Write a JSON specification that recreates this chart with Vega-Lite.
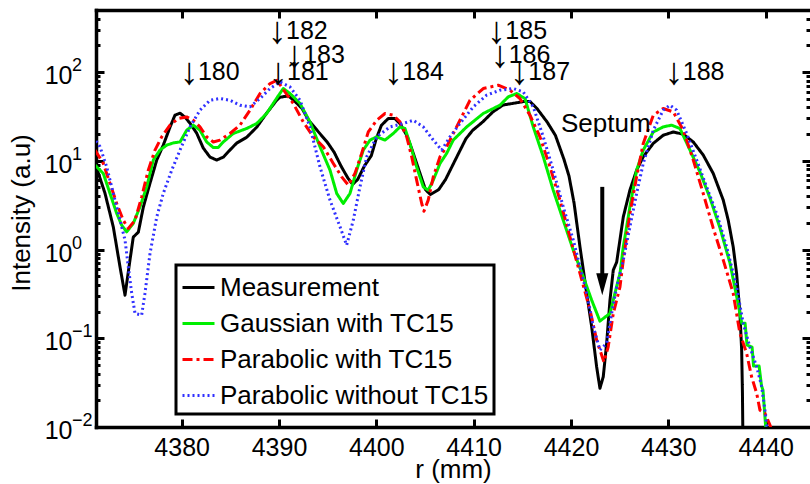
{
  "$schema": "https://vega.github.io/schema/vega-lite/v6.json",
  "width": 714,
  "height": 417,
  "autosize": {"type": "none"},
  "padding": {"left": 96, "top": 10, "right": 0, "bottom": 57},
  "background": "white",
  "config": {
    "font": "Liberation Sans",
    "view": {"stroke": null},
    "axis": {
      "grid": false,
      "domainColor": "#000",
      "tickColor": "#000",
      "labelColor": "#000",
      "titleColor": "#000",
      "labelFont": "Liberation Sans",
      "titleFont": "Liberation Sans",
      "labelFontSize": 25,
      "titleFontSize": 26,
      "titleFontWeight": "normal",
      "domainWidth": 3.5,
      "tickWidth": 3,
      "domainCap": "square",
      "labelOverlap": false,
      "labelFlush": false,
      "labelBound": false
    },
    "legend": {"strokeWidth": 3}
  },
  "datasets": {
    "curves": [
      {"s":"Measurement","r":4371.27,"v":8.26},{"s":"Measurement","r":4372.12,"v":4.32},{"s":"Measurement","r":4372.98,"v":1.79},{"s":"Measurement","r":4373.67,"v":0.634},{"s":"Measurement","r":4374.18,"v":0.306},{"s":"Measurement","r":4374.69,"v":0.76},{"s":"Measurement","r":4375.03,"v":1.38},{"s":"Measurement","r":4375.55,"v":1.57},{"s":"Measurement","r":4376.06,"v":3.0},{"s":"Measurement","r":4376.75,"v":5.6},{"s":"Measurement","r":4377.44,"v":10.2},{"s":"Measurement","r":4378.11,"v":15.0},{"s":"Measurement","r":4378.8,"v":23.9},{"s":"Measurement","r":4379.31,"v":32.6},{"s":"Measurement","r":4379.83,"v":34.4},{"s":"Measurement","r":4380.34,"v":31.0},{"s":"Measurement","r":4380.86,"v":26.5},{"s":"Measurement","r":4381.54,"v":20.5},{"s":"Measurement","r":4382.22,"v":13.9},{"s":"Measurement","r":4382.91,"v":11.0},{"s":"Measurement","r":4383.6,"v":10.2},{"s":"Measurement","r":4384.28,"v":11.0},{"s":"Measurement","r":4384.96,"v":13.2},{"s":"Measurement","r":4385.65,"v":15.8},{"s":"Measurement","r":4386.68,"v":18.4},{"s":"Measurement","r":4387.71,"v":23.9},{"s":"Measurement","r":4388.73,"v":34.4},{"s":"Measurement","r":4389.76,"v":48.1},{"s":"Measurement","r":4390.1,"v":52.0},{"s":"Measurement","r":4390.97,"v":53.8},{"s":"Measurement","r":4391.66,"v":46.4},{"s":"Measurement","r":4392.36,"v":38.9},{"s":"Measurement","r":4393.05,"v":28.6},{"s":"Measurement","r":4393.92,"v":22.0},{"s":"Measurement","r":4394.96,"v":16.2},{"s":"Measurement","r":4395.66,"v":12.5},{"s":"Measurement","r":4396.36,"v":8.77},{"s":"Measurement","r":4397.05,"v":6.45},{"s":"Measurement","r":4397.57,"v":5.42},{"s":"Measurement","r":4398.09,"v":6.18},{"s":"Measurement","r":4398.78,"v":8.77},{"s":"Measurement","r":4399.48,"v":11.4},{"s":"Measurement","r":4399.99,"v":17.7},{"s":"Measurement","r":4400.52,"v":25.1},{"s":"Measurement","r":4401.22,"v":29.9},{"s":"Measurement","r":4401.9,"v":29.9},{"s":"Measurement","r":4402.43,"v":26.2},{"s":"Measurement","r":4403.13,"v":19.3},{"s":"Measurement","r":4403.64,"v":13.6},{"s":"Measurement","r":4404.34,"v":8.04},{"s":"Measurement","r":4405.04,"v":4.75},{"s":"Measurement","r":4405.55,"v":4.16},{"s":"Measurement","r":4406.42,"v":4.75},{"s":"Measurement","r":4407.12,"v":6.18},{"s":"Measurement","r":4407.81,"v":8.77},{"s":"Measurement","r":4408.51,"v":12.5},{"s":"Measurement","r":4409.2,"v":17.7},{"s":"Measurement","r":4409.89,"v":22.0},{"s":"Measurement","r":4410.93,"v":27.4},{"s":"Measurement","r":4411.98,"v":35.6},{"s":"Measurement","r":4413.02,"v":42.5},{"s":"Measurement","r":4414.07,"v":44.4},{"s":"Measurement","r":4415.1,"v":46.4},{"s":"Measurement","r":4415.8,"v":46.4},{"s":"Measurement","r":4416.49,"v":38.9},{"s":"Measurement","r":4417.54,"v":27.4},{"s":"Measurement","r":4418.4,"v":19.3},{"s":"Measurement","r":4419.27,"v":10.4},{"s":"Measurement","r":4419.79,"v":6.74},{"s":"Measurement","r":4420.31,"v":3.35},{"s":"Measurement","r":4420.92,"v":1.07},{"s":"Measurement","r":4421.61,"v":0.321},{"s":"Measurement","r":4422.12,"v":0.135},{"s":"Measurement","r":4422.63,"v":0.0478},{"s":"Measurement","r":4422.97,"v":0.0273},{"s":"Measurement","r":4423.31,"v":0.0368},{"s":"Measurement","r":4423.66,"v":0.0877},{"s":"Measurement","r":4424.0,"v":0.269},{"s":"Measurement","r":4424.34,"v":0.586},{"s":"Measurement","r":4424.69,"v":0.721},{"s":"Measurement","r":4425.37,"v":2.33},{"s":"Measurement","r":4426.05,"v":4.67},{"s":"Measurement","r":4426.74,"v":7.84},{"s":"Measurement","r":4427.42,"v":11.1},{"s":"Measurement","r":4428.45,"v":15.7},{"s":"Measurement","r":4429.47,"v":19.4},{"s":"Measurement","r":4430.5,"v":21.1},{"s":"Measurement","r":4431.53,"v":19.9},{"s":"Measurement","r":4432.56,"v":16.3},{"s":"Measurement","r":4433.58,"v":11.6},{"s":"Measurement","r":4434.61,"v":7.19},{"s":"Measurement","r":4435.64,"v":3.6},{"s":"Measurement","r":4436.15,"v":2.14},{"s":"Measurement","r":4436.66,"v":1.07},{"s":"Measurement","r":4437.01,"v":0.538},{"s":"Measurement","r":4437.35,"v":0.19},{"s":"Measurement","r":4437.53,"v":0.0736},{"s":"Measurement","r":4437.61,"v":0.0241},{"s":"Measurement","r":4437.66,"v":0.007},
      {"s":"Gaussian with TC15","r":4371.1,"v":8.92},{"s":"Gaussian with TC15","r":4371.95,"v":7.19},{"s":"Gaussian with TC15","r":4372.64,"v":4.28},{"s":"Gaussian with TC15","r":4373.33,"v":2.55},{"s":"Gaussian with TC15","r":4373.84,"v":1.88},{"s":"Gaussian with TC15","r":4374.35,"v":1.58},{"s":"Gaussian with TC15","r":4375.03,"v":1.97},{"s":"Gaussian with TC15","r":4375.72,"v":3.03},{"s":"Gaussian with TC15","r":4376.41,"v":5.08},{"s":"Gaussian with TC15","r":4377.09,"v":10.2},{"s":"Gaussian with TC15","r":4377.77,"v":13.2},{"s":"Gaussian with TC15","r":4378.46,"v":15.0},{"s":"Gaussian with TC15","r":4379.14,"v":15.9},{"s":"Gaussian with TC15","r":4379.83,"v":16.3},{"s":"Gaussian with TC15","r":4380.52,"v":22.1},{"s":"Gaussian with TC15","r":4381.19,"v":25.2},{"s":"Gaussian with TC15","r":4381.88,"v":22.1},{"s":"Gaussian with TC15","r":4382.57,"v":16.3},{"s":"Gaussian with TC15","r":4383.25,"v":14.1},{"s":"Gaussian with TC15","r":4383.76,"v":14.1},{"s":"Gaussian with TC15","r":4384.28,"v":16.3},{"s":"Gaussian with TC15","r":4385.3,"v":20.3},{"s":"Gaussian with TC15","r":4386.68,"v":23.1},{"s":"Gaussian with TC15","r":4387.71,"v":26.3},{"s":"Gaussian with TC15","r":4388.73,"v":34.1},{"s":"Gaussian with TC15","r":4389.76,"v":50.7},{"s":"Gaussian with TC15","r":4390.44,"v":65.2},{"s":"Gaussian with TC15","r":4391.13,"v":57.3},{"s":"Gaussian with TC15","r":4392.16,"v":44.2},{"s":"Gaussian with TC15","r":4393.18,"v":27.4},{"s":"Gaussian with TC15","r":4394.21,"v":14.4},{"s":"Gaussian with TC15","r":4395.24,"v":7.84},{"s":"Gaussian with TC15","r":4395.93,"v":4.28},{"s":"Gaussian with TC15","r":4396.6,"v":3.3},{"s":"Gaussian with TC15","r":4397.29,"v":4.28},{"s":"Gaussian with TC15","r":4397.98,"v":7.84},{"s":"Gaussian with TC15","r":4398.66,"v":13.2},{"s":"Gaussian with TC15","r":4399.35,"v":17.1},{"s":"Gaussian with TC15","r":4400.03,"v":18.6},{"s":"Gaussian with TC15","r":4400.89,"v":17.1},{"s":"Gaussian with TC15","r":4401.74,"v":20.3},{"s":"Gaussian with TC15","r":4402.43,"v":24.1},{"s":"Gaussian with TC15","r":4402.94,"v":23.1},{"s":"Gaussian with TC15","r":4403.45,"v":15.7},{"s":"Gaussian with TC15","r":4404.14,"v":8.53},{"s":"Gaussian with TC15","r":4404.82,"v":5.08},{"s":"Gaussian with TC15","r":4405.33,"v":4.67},{"s":"Gaussian with TC15","r":4405.85,"v":6.05},{"s":"Gaussian with TC15","r":4406.54,"v":9.33},{"s":"Gaussian with TC15","r":4407.22,"v":12.1},{"s":"Gaussian with TC15","r":4407.9,"v":17.1},{"s":"Gaussian with TC15","r":4409.28,"v":24.1},{"s":"Gaussian with TC15","r":4410.98,"v":34.1},{"s":"Gaussian with TC15","r":4412.7,"v":42.3},{"s":"Gaussian with TC15","r":4413.55,"v":52.5},{"s":"Gaussian with TC15","r":4414.42,"v":57.3},{"s":"Gaussian with TC15","r":4415.27,"v":50.3},{"s":"Gaussian with TC15","r":4416.12,"v":24.1},{"s":"Gaussian with TC15","r":4417.15,"v":11.1},{"s":"Gaussian with TC15","r":4418.17,"v":4.67},{"s":"Gaussian with TC15","r":4419.2,"v":2.14},{"s":"Gaussian with TC15","r":4420.23,"v":0.984},{"s":"Gaussian with TC15","r":4421.26,"v":0.493},{"s":"Gaussian with TC15","r":4422.12,"v":0.269},{"s":"Gaussian with TC15","r":4422.97,"v":0.156},{"s":"Gaussian with TC15","r":4423.49,"v":0.173},{"s":"Gaussian with TC15","r":4424.0,"v":0.19},{"s":"Gaussian with TC15","r":4424.51,"v":0.321},{"s":"Gaussian with TC15","r":4425.03,"v":0.538},{"s":"Gaussian with TC15","r":4425.37,"v":1.07},{"s":"Gaussian with TC15","r":4426.05,"v":3.03},{"s":"Gaussian with TC15","r":4426.74,"v":7.84},{"s":"Gaussian with TC15","r":4427.42,"v":13.2},{"s":"Gaussian with TC15","r":4428.45,"v":21.1},{"s":"Gaussian with TC15","r":4429.47,"v":24.1},{"s":"Gaussian with TC15","r":4430.34,"v":25.2},{"s":"Gaussian with TC15","r":4431.19,"v":23.1},{"s":"Gaussian with TC15","r":4432.22,"v":13.2},{"s":"Gaussian with TC15","r":4433.25,"v":7.45},{"s":"Gaussian with TC15","r":4434.28,"v":3.79},{"s":"Gaussian with TC15","r":4435.31,"v":1.74},{"s":"Gaussian with TC15","r":4436.33,"v":0.703},{"s":"Gaussian with TC15","r":4437.19,"v":0.237},{"s":"Gaussian with TC15","r":4437.54,"v":0.148},{"s":"Gaussian with TC15","r":4437.88,"v":0.148},{"s":"Gaussian with TC15","r":4438.08,"v":0.0837},{"s":"Gaussian with TC15","r":4438.6,"v":0.0796},{"s":"Gaussian with TC15","r":4438.75,"v":0.0486},{"s":"Gaussian with TC15","r":4439.32,"v":0.0486},{"s":"Gaussian with TC15","r":4439.57,"v":0.029},{"s":"Gaussian with TC15","r":4439.72,"v":0.0261},{"s":"Gaussian with TC15","r":4440.03,"v":0.009},
      {"s":"Parabolic with TC15","r":4371.1,"v":13.2},{"s":"Parabolic with TC15","r":4371.95,"v":9.33},{"s":"Parabolic with TC15","r":4372.64,"v":5.55},{"s":"Parabolic with TC15","r":4373.33,"v":3.3},{"s":"Parabolic with TC15","r":4374.0,"v":2.14},{"s":"Parabolic with TC15","r":4374.52,"v":1.73},{"s":"Parabolic with TC15","r":4375.21,"v":2.14},{"s":"Parabolic with TC15","r":4375.89,"v":3.92},{"s":"Parabolic with TC15","r":4376.57,"v":7.84},{"s":"Parabolic with TC15","r":4377.26,"v":13.2},{"s":"Parabolic with TC15","r":4377.95,"v":18.6},{"s":"Parabolic with TC15","r":4378.8,"v":25.2},{"s":"Parabolic with TC15","r":4379.65,"v":29.9},{"s":"Parabolic with TC15","r":4380.52,"v":31.2},{"s":"Parabolic with TC15","r":4381.19,"v":28.6},{"s":"Parabolic with TC15","r":4381.88,"v":24.1},{"s":"Parabolic with TC15","r":4382.57,"v":18.6},{"s":"Parabolic with TC15","r":4383.25,"v":16.3},{"s":"Parabolic with TC15","r":4383.94,"v":17.1},{"s":"Parabolic with TC15","r":4384.96,"v":20.3},{"s":"Parabolic with TC15","r":4385.99,"v":25.2},{"s":"Parabolic with TC15","r":4387.02,"v":37.2},{"s":"Parabolic with TC15","r":4388.05,"v":57.3},{"s":"Parabolic with TC15","r":4389.08,"v":74.2},{"s":"Parabolic with TC15","r":4389.79,"v":80.8},{"s":"Parabolic with TC15","r":4390.61,"v":59.7},{"s":"Parabolic with TC15","r":4391.47,"v":44.2},{"s":"Parabolic with TC15","r":4392.49,"v":27.4},{"s":"Parabolic with TC15","r":4393.52,"v":18.6},{"s":"Parabolic with TC15","r":4394.55,"v":14.4},{"s":"Parabolic with TC15","r":4395.58,"v":9.33},{"s":"Parabolic with TC15","r":4396.44,"v":6.59},{"s":"Parabolic with TC15","r":4397.12,"v":5.31},{"s":"Parabolic with TC15","r":4397.8,"v":7.19},{"s":"Parabolic with TC15","r":4398.49,"v":12.1},{"s":"Parabolic with TC15","r":4399.17,"v":21.1},{"s":"Parabolic with TC15","r":4400.03,"v":28.6},{"s":"Parabolic with TC15","r":4400.89,"v":34.1},{"s":"Parabolic with TC15","r":4401.74,"v":32.6},{"s":"Parabolic with TC15","r":4402.43,"v":27.4},{"s":"Parabolic with TC15","r":4403.12,"v":18.6},{"s":"Parabolic with TC15","r":4403.63,"v":11.1},{"s":"Parabolic with TC15","r":4404.14,"v":6.05},{"s":"Parabolic with TC15","r":4404.66,"v":3.3},{"s":"Parabolic with TC15","r":4404.89,"v":2.7},{"s":"Parabolic with TC15","r":4405.33,"v":3.6},{"s":"Parabolic with TC15","r":4405.85,"v":6.59},{"s":"Parabolic with TC15","r":4406.54,"v":11.1},{"s":"Parabolic with TC15","r":4407.22,"v":14.4},{"s":"Parabolic with TC15","r":4408.59,"v":28.6},{"s":"Parabolic with TC15","r":4409.62,"v":48.1},{"s":"Parabolic with TC15","r":4410.98,"v":65.2},{"s":"Parabolic with TC15","r":4412.52,"v":71.0},{"s":"Parabolic with TC15","r":4413.73,"v":62.4},{"s":"Parabolic with TC15","r":4414.75,"v":50.3},{"s":"Parabolic with TC15","r":4415.78,"v":32.6},{"s":"Parabolic with TC15","r":4416.81,"v":18.6},{"s":"Parabolic with TC15","r":4417.84,"v":8.53},{"s":"Parabolic with TC15","r":4418.86,"v":3.6},{"s":"Parabolic with TC15","r":4419.89,"v":1.39},{"s":"Parabolic with TC15","r":4420.92,"v":0.538},{"s":"Parabolic with TC15","r":4421.95,"v":0.208},{"s":"Parabolic with TC15","r":4422.63,"v":0.0955},{"s":"Parabolic with TC15","r":4423.38,"v":0.054},{"s":"Parabolic with TC15","r":4423.82,"v":0.0801},{"s":"Parabolic with TC15","r":4424.34,"v":0.19},{"s":"Parabolic with TC15","r":4425.03,"v":0.38},{"s":"Parabolic with TC15","r":4425.37,"v":0.76},{"s":"Parabolic with TC15","r":4426.05,"v":2.55},{"s":"Parabolic with TC15","r":4426.74,"v":6.59},{"s":"Parabolic with TC15","r":4427.42,"v":15.7},{"s":"Parabolic with TC15","r":4428.45,"v":32.6},{"s":"Parabolic with TC15","r":4429.47,"v":38.8},{"s":"Parabolic with TC15","r":4430.5,"v":35.6},{"s":"Parabolic with TC15","r":4431.53,"v":22.1},{"s":"Parabolic with TC15","r":4432.56,"v":10.2},{"s":"Parabolic with TC15","r":4433.58,"v":4.28},{"s":"Parabolic with TC15","r":4434.61,"v":1.74},{"s":"Parabolic with TC15","r":4435.64,"v":0.76},{"s":"Parabolic with TC15","r":4436.66,"v":0.321},{"s":"Parabolic with TC15","r":4437.35,"v":0.1135},{"s":"Parabolic with TC15","r":4438.04,"v":0.0676},{"s":"Parabolic with TC15","r":4438.55,"v":0.0368},{"s":"Parabolic with TC15","r":4439.07,"v":0.024},{"s":"Parabolic with TC15","r":4439.41,"v":0.0155},{"s":"Parabolic with TC15","r":4439.92,"v":0.0143},{"s":"Parabolic with TC15","r":4440.44,"v":0.0105},{"s":"Parabolic with TC15","r":4440.65,"v":0.0088},
      {"s":"Parabolic without TC15","r":4370.92,"v":18.6},{"s":"Parabolic without TC15","r":4371.61,"v":14.4},{"s":"Parabolic without TC15","r":4372.3,"v":8.53},{"s":"Parabolic without TC15","r":4372.98,"v":4.28},{"s":"Parabolic without TC15","r":4373.67,"v":2.14},{"s":"Parabolic without TC15","r":4374.18,"v":1.28},{"s":"Parabolic without TC15","r":4374.52,"v":0.638},{"s":"Parabolic without TC15","r":4374.87,"v":0.321},{"s":"Parabolic without TC15","r":4375.21,"v":0.19},{"s":"Parabolic without TC15","r":4375.89,"v":0.182},{"s":"Parabolic without TC15","r":4376.23,"v":0.321},{"s":"Parabolic without TC15","r":4376.75,"v":0.904},{"s":"Parabolic without TC15","r":4377.44,"v":2.33},{"s":"Parabolic without TC15","r":4378.11,"v":4.28},{"s":"Parabolic without TC15","r":4378.98,"v":7.84},{"s":"Parabolic without TC15","r":4379.83,"v":13.2},{"s":"Parabolic without TC15","r":4380.86,"v":24.1},{"s":"Parabolic without TC15","r":4381.88,"v":37.2},{"s":"Parabolic without TC15","r":4382.91,"v":48.1},{"s":"Parabolic without TC15","r":4383.94,"v":50.3},{"s":"Parabolic without TC15","r":4384.96,"v":48.1},{"s":"Parabolic without TC15","r":4385.99,"v":42.3},{"s":"Parabolic without TC15","r":4387.02,"v":40.5},{"s":"Parabolic without TC15","r":4388.05,"v":50.3},{"s":"Parabolic without TC15","r":4389.08,"v":65.2},{"s":"Parabolic without TC15","r":4390.1,"v":77.4},{"s":"Parabolic without TC15","r":4391.13,"v":67.9},{"s":"Parabolic without TC15","r":4392.16,"v":48.1},{"s":"Parabolic without TC15","r":4393.18,"v":24.1},{"s":"Parabolic without TC15","r":4394.21,"v":8.53},{"s":"Parabolic without TC15","r":4395.24,"v":3.6},{"s":"Parabolic without TC15","r":4396.27,"v":1.8},{"s":"Parabolic without TC15","r":4396.95,"v":1.12},{"s":"Parabolic without TC15","r":4397.63,"v":2.14},{"s":"Parabolic without TC15","r":4398.32,"v":5.08},{"s":"Parabolic without TC15","r":4399.01,"v":11.1},{"s":"Parabolic without TC15","r":4400.03,"v":18.6},{"s":"Parabolic without TC15","r":4401.4,"v":24.1},{"s":"Parabolic without TC15","r":4402.77,"v":26.3},{"s":"Parabolic without TC15","r":4403.79,"v":28.6},{"s":"Parabolic without TC15","r":4404.82,"v":24.1},{"s":"Parabolic without TC15","r":4405.85,"v":17.1},{"s":"Parabolic without TC15","r":4406.71,"v":13.2},{"s":"Parabolic without TC15","r":4407.56,"v":18.6},{"s":"Parabolic without TC15","r":4408.59,"v":26.3},{"s":"Parabolic without TC15","r":4409.96,"v":40.5},{"s":"Parabolic without TC15","r":4411.33,"v":54.8},{"s":"Parabolic without TC15","r":4412.7,"v":62.4},{"s":"Parabolic without TC15","r":4414.07,"v":65.2},{"s":"Parabolic without TC15","r":4415.09,"v":59.7},{"s":"Parabolic without TC15","r":4416.12,"v":40.5},{"s":"Parabolic without TC15","r":4417.15,"v":18.6},{"s":"Parabolic without TC15","r":4418.17,"v":7.84},{"s":"Parabolic without TC15","r":4419.2,"v":3.03},{"s":"Parabolic without TC15","r":4420.23,"v":1.28},{"s":"Parabolic without TC15","r":4420.92,"v":0.638},{"s":"Parabolic without TC15","r":4421.61,"v":0.321},{"s":"Parabolic without TC15","r":4422.29,"v":0.135},{"s":"Parabolic without TC15","r":4422.97,"v":0.0736},{"s":"Parabolic without TC15","r":4423.66,"v":0.0877},{"s":"Parabolic without TC15","r":4424.17,"v":0.19},{"s":"Parabolic without TC15","r":4424.69,"v":0.38},{"s":"Parabolic without TC15","r":4425.37,"v":0.76},{"s":"Parabolic without TC15","r":4426.05,"v":1.8},{"s":"Parabolic without TC15","r":4426.74,"v":4.28},{"s":"Parabolic without TC15","r":4427.42,"v":9.33},{"s":"Parabolic without TC15","r":4428.45,"v":22.1},{"s":"Parabolic without TC15","r":4429.47,"v":37.2},{"s":"Parabolic without TC15","r":4430.16,"v":42.3},{"s":"Parabolic without TC15","r":4430.85,"v":37.2},{"s":"Parabolic without TC15","r":4431.88,"v":20.3},{"s":"Parabolic without TC15","r":4432.91,"v":10.2},{"s":"Parabolic without TC15","r":4433.93,"v":5.08},{"s":"Parabolic without TC15","r":4434.96,"v":2.55},{"s":"Parabolic without TC15","r":4435.99,"v":1.07},{"s":"Parabolic without TC15","r":4437.01,"v":0.38},{"s":"Parabolic without TC15","r":4437.69,"v":0.147},{"s":"Parabolic without TC15","r":4438.37,"v":0.0801},{"s":"Parabolic without TC15","r":4439.07,"v":0.0478},{"s":"Parabolic without TC15","r":4439.58,"v":0.0288},{"s":"Parabolic without TC15","r":4439.92,"v":0.0155},{"s":"Parabolic without TC15","r":4440.13,"v":0.0098}
    ],
    "ann": [
      {"r":4380.75,"v":100,"t":"180"},
      {"r":4389.8,"v":292,"t":"182"},
      {"r":4391.56,"v":157,"t":"183"},
      {"r":4389.9,"v":100,"t":"181"},
      {"r":4401.73,"v":100,"t":"184"},
      {"r":4412.33,"v":292,"t":"185"},
      {"r":4412.67,"v":157,"t":"186"},
      {"r":4414.69,"v":100,"t":"187"},
      {"r":4430.55,"v":100,"t":"188"}
    ],
    "septum": [{"r":4418.97,"v":25.8,"t":"Septum"}],
    "arrow": [{"r":4423.21,"v":5.08,"v2":0.515}],
    "head": [{"r":4423.21,"v":0.407}]
  },
  "layer": [
    {
      "data": {"name": "curves"},
      "mark": {"type": "line", "clip": true, "strokeJoin": "round"},
      "encoding": {
        "x": {
          "field": "r", "type": "quantitative",
          "scale": {"domain": [4371.2, 4444.55], "nice": false, "zero": false},
          "axis": {
            "orient": "bottom",
            "values": [4380, 4390, 4400, 4410, 4420, 4430, 4440],
            "format": "d",
            "tickSize": -8,
            "labelPadding": 16,
            "title": "r (mm)",
            "titleX": 357,
            "titleY": 50.5,
            "titleBaseline": "alphabetic",
            "titleAlign": "center"
          }
        },
        "y": {
          "field": "v", "type": "quantitative",
          "scale": {"type": "log", "domain": [0.01, 500], "nice": false},
          "axis": {
            "orient": "left",
            "values": [0.01, 0.1, 1, 10, 100],
            "labelExpr": "'10'",
            "tickSize": -8,
            "labelPadding": 32,
            "labelBaseline": "middle",
            "labelOffset": 3.5,
            "title": "Intensity (a.u)",
            "titleX": -62,
            "titleY": 202.5,
            "titleAngle": -90,
            "titleBaseline": "bottom",
            "titleAlign": "center"
          }
        },
        "color": {
          "field": "s", "type": "nominal",
          "scale": {"domain": ["Measurement", "Gaussian with TC15", "Parabolic with TC15", "Parabolic without TC15"], "range": ["#000000", "#00ee00", "#ff0000", "#3030ff"]},
          "legend": {"orient": "none", "legendX": 80, "legendY": 255, "title": null, "symbolType": "stroke", "symbolSize": 1024, "labelFontSize": 26, "labelFont": "Liberation Sans", "labelColor": "#000", "labelOffset": 4, "rowPadding": 5, "padding": 5, "strokeColor": "#000", "fillColor": "#fff", "labelLimit": 400}
        },
        "strokeDash": {
          "field": "s", "type": "nominal",
          "scale": {"domain": ["Measurement", "Gaussian with TC15", "Parabolic with TC15", "Parabolic without TC15"], "range": [[1, 0], [1, 0], [10, 4, 3, 4], [2, 3]]},
          "legend": {"orient": "none", "legendX": 80, "legendY": 255, "title": null, "symbolType": "stroke", "symbolSize": 1024, "labelFontSize": 26, "labelFont": "Liberation Sans", "labelColor": "#000", "labelOffset": 4, "rowPadding": 5, "padding": 5, "strokeColor": "#000", "fillColor": "#fff", "labelLimit": 400}
        },
        "strokeWidth": {
          "field": "s", "type": "nominal",
          "scale": {"domain": ["Measurement", "Gaussian with TC15", "Parabolic with TC15", "Parabolic without TC15"], "range": [3, 3, 3.5, 2.2]},
          "legend": {"orient": "none", "legendX": 80, "legendY": 255, "title": null, "symbolType": "stroke", "symbolSize": 1024, "labelFontSize": 26, "labelFont": "Liberation Sans", "labelColor": "#000", "labelOffset": 4, "rowPadding": 5, "padding": 5, "strokeColor": "#000", "fillColor": "#fff", "labelLimit": 400}
        }
      }
    },
    {
      "data": {"name": "ann"},
      "mark": {"type": "text", "align": "left", "baseline": "middle", "dx": 9, "fontSize": 25, "font": "Liberation Sans", "color": "#000"},
      "encoding": {
        "x": {
          "field": "r", "type": "quantitative",
          "scale": {"domain": [4371.2, 4444.55], "nice": false, "zero": false},
          "axis": {"orient": "top", "values": [4380, 4390, 4400, 4410, 4420, 4430, 4440], "tickSize": -8, "labels": false, "title": null}
        },
        "y": {
          "field": "v", "type": "quantitative",
          "scale": {"type": "log", "domain": [0.01, 500], "nice": false},
          "axis": {"orient": "right", "values": [0.01, 0.1, 1, 10, 100], "tickSize": -8, "labels": false, "title": null, "domain": false}
        },
        "text": {"field": "t"}
      }
    },
    {
      "data": {"name": "ann"},
      "mark": {"type": "text", "align": "center", "baseline": "middle", "dy": 1, "fontSize": 38, "font": "Liberation Sans", "color": "#000", "text": "↓"},
      "encoding": {
        "x": {"field": "r", "type": "quantitative", "scale": {"domain": [4371.2, 4444.55], "nice": false, "zero": false}, "axis": null},
        "y": {
          "field": "v", "type": "quantitative",
          "scale": {"type": "log", "domain": [0.01, 500], "nice": false},
          "axis": {"orient": "right", "values": [0.02,0.03,0.04,0.05,0.06,0.07,0.08,0.09,0.2,0.3,0.4,0.5,0.6,0.7,0.8,0.9,2,3,4,5,6,7,8,9,20,30,40,50,60,70,80,90,200,300,400], "tickSize": -4, "labels": false, "title": null, "domain": false}
        }
      }
    },
    {
      "data": {"name": "septum"},
      "mark": {"type": "text", "align": "left", "baseline": "middle", "fontSize": 26, "font": "Liberation Sans", "color": "#000"},
      "encoding": {
        "x": {"field": "r", "type": "quantitative", "scale": {"domain": [4371.2, 4444.55], "nice": false, "zero": false}, "axis": null},
        "y": {
          "field": "v", "type": "quantitative",
          "scale": {"type": "log", "domain": [0.01, 500], "nice": false},
          "axis": {"orient": "left", "values": [0.01,0.02,0.03,0.04,0.05,0.06,0.07,0.08,0.09,0.1,0.2,0.3,0.4,0.5,0.6,0.7,0.8,0.9,1,2,3,4,5,6,7,8,9,10,20,30,40,50,60,70,80,90,100,200,300,400],
            "tickSize": -4, "domain": false, "title": null,
            "labelExpr": "datum.value == 100 ? '2' : datum.value == 10 ? '1' : datum.value == 1 ? '0' : datum.value == 0.1 ? '−1' : datum.value == 0.01 ? '−2' : ''",
            "labelFontSize": 18, "labelAlign": "left", "labelBaseline": "middle", "labelPadding": 28.5, "labelOffset": -6.5}
        },
        "text": {"field": "t"}
      }
    },
    {
      "data": {"name": "arrow"},
      "mark": {"type": "rule", "color": "#000", "strokeWidth": 4},
      "encoding": {
        "x": {"field": "r", "type": "quantitative", "scale": {"domain": [4371.2, 4444.55], "nice": false, "zero": false}, "axis": null},
        "y": {"field": "v", "type": "quantitative", "scale": {"type": "log", "domain": [0.01, 500], "nice": false}, "axis": null},
        "y2": {"field": "v2"}
      }
    },
    {
      "data": {"name": "head"},
      "mark": {"type": "point", "shape": "M-0.55,-1L0.55,-1L0,1Z", "filled": true, "color": "#000", "size": 484, "opacity": 1},
      "encoding": {
        "x": {"field": "r", "type": "quantitative", "scale": {"domain": [4371.2, 4444.55], "nice": false, "zero": false}, "axis": null},
        "y": {"field": "v", "type": "quantitative", "scale": {"type": "log", "domain": [0.01, 500], "nice": false}, "axis": null}
      }
    }
  ],
  "resolve": {"axis": {"x": "independent", "y": "independent"}}
}
